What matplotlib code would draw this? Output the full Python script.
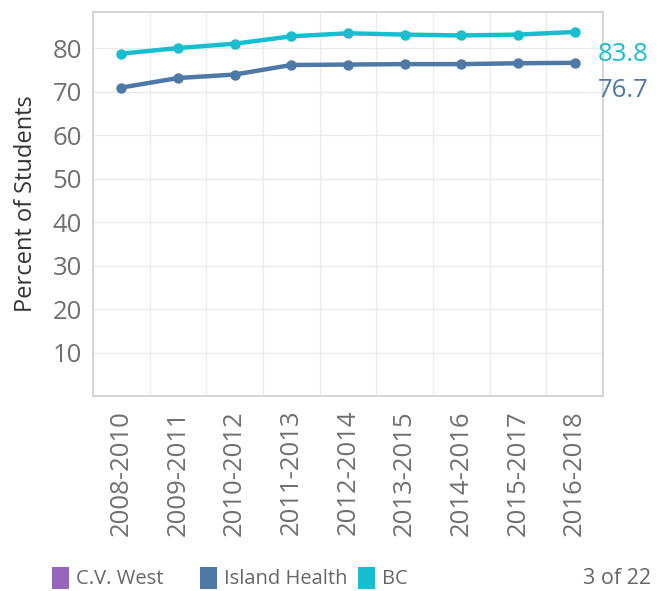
import matplotlib
matplotlib.use("Agg")
import matplotlib.pyplot as plt
from matplotlib.patches import Patch

periods = ["2008-2010", "2009-2011", "2010-2012", "2011-2013", "2012-2014",
           "2013-2015", "2014-2016", "2015-2017", "2016-2018"]
island_health = [71.0, 73.2, 74.0, 76.2, 76.3, 76.4, 76.4, 76.6, 76.7]
bc = [78.8, 80.1, 81.1, 82.8, 83.5, 83.2, 83.0, 83.2, 83.8]
series_names = ["C.V. West", "Island Health", "BC"]
series_colors = ["#9467bd", "#4e79a7", "#17becf"]
y_ticks = [10, 20, 30, 40, 50, 60, 70, 80]

plt.rcParams['font.family'] = ['Open Sans', 'DejaVu Sans']

fig = plt.figure(figsize=(6.64, 5.91), dpi=100)
ax = fig.add_axes([93/664, 1-396/591, 510/664, 384/591])

x = list(range(len(periods)))
ax.plot(x, island_health, color=series_colors[1], lw=3.2, marker='o', ms=6.5, zorder=3)
ax.plot(x, bc, color=series_colors[2], lw=3.2, marker='o', ms=6.5, zorder=3)

ax.set_xlim(-0.5, len(periods) - 0.5)
ax.set_ylim(0, 88.4)
ax.set_yticks(y_ticks)
ax.set_yticklabels([str(t) for t in y_ticks])
ax.set_xticks(x)
ax.set_xticklabels(periods, rotation=90)
ax.set_xticks([i + 0.5 for i in x[:-1]], minor=True)

ax.tick_params(axis='both', which='both', length=0, labelsize=18.5, labelcolor='#707070')
ax.tick_params(axis='x', pad=10)
ax.tick_params(axis='y', pad=8)
ax.grid(axis='y', which='major', color='#ebebeb', lw=1)
ax.grid(axis='x', which='minor', color='#ebebeb', lw=1)
ax.set_axisbelow(True)
for s in ax.spines.values():
    s.set_color('#d0d0d0')
    s.set_linewidth(1.2)

ax.set_ylabel("Percent of Students", fontsize=17, color='#333333', labelpad=10)

ax.annotate(f"{bc[-1]:.1f}", xy=(x[-1], bc[-1]), xytext=(53, -16.5), textcoords='offset points',
            ha='right', va='center', fontsize=18.5, color=series_colors[2], annotation_clip=False)
ax.annotate(f"{island_health[-1]:.1f}", xy=(x[-1], island_health[-1]), xytext=(53, -20),
            textcoords='offset points', ha='right', va='center', fontsize=18.5,
            color=series_colors[1], annotation_clip=False)

legend_x = [38/664, 186/664, 344/664]
for name, col, lx in zip(series_names, series_colors, legend_x):
    fig.legend(handles=[Patch(facecolor=col, edgecolor='none')], labels=[name],
               loc='center left', bbox_to_anchor=(lx, 1-578/591), frameon=False,
               fontsize=14.5, handlelength=0.85, handleheight=1.3, handletextpad=0.35,
               labelcolor='#666666', borderpad=0.2)

fig.text(583/664, 1-579/591, "3 of 22", fontsize=15.5, color='#666666', va='center', ha='left')

fig.savefig("out.png", dpi=100)
